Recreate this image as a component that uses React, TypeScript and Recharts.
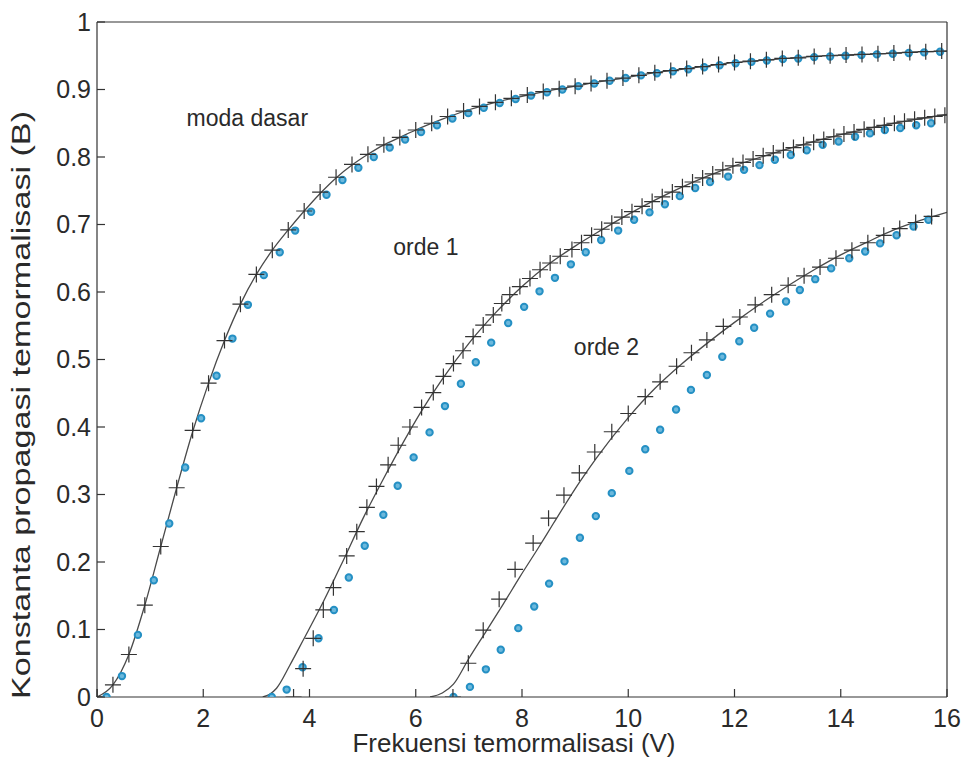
import React from 'react';
import { ComposedChart, Line, Scatter, XAxis, YAxis, ReferenceDot } from 'recharts';

// ---- Data (V = normalized frequency, B = normalized propagation constant) ----
const xTicks = [0, 2, 4, 6, 8, 10, 12, 14, 16];
const yTicks = [0, 0.1, 0.2, 0.3, 0.4, 0.5, 0.6, 0.7, 0.8, 0.9, 1];

// Fundamental mode (moda dasar)
const mode0Line: [number, number][] = [
  [0, 0], [0.3, 0.018], [0.6, 0.063], [0.9, 0.136], [1.2, 0.223], [1.5, 0.31], [1.8, 0.393], [2.1, 0.465],
  [2.4, 0.528], [2.7, 0.582], [3.0, 0.626], [3.3, 0.662], [3.6, 0.692], [3.9, 0.72], [4.2, 0.746], [4.5, 0.769],
  [4.8, 0.788], [5.1, 0.804], [5.4, 0.818], [5.7, 0.829], [6.0, 0.84], [6.5, 0.856], [7.0, 0.87], [7.5, 0.881],
  [8.0, 0.89], [8.5, 0.898], [9.0, 0.905], [9.5, 0.912], [10.0, 0.918], [10.5, 0.925], [11.0, 0.93], [11.5, 0.935],
  [12.0, 0.94], [12.5, 0.943], [13.0, 0.946], [13.5, 0.949], [14.0, 0.951], [14.5, 0.952], [15.0, 0.954],
  [15.5, 0.956], [16.0, 0.957],
];
const mode0Cross: [number, number][] = [
  [0, 0], [0.3, 0.018], [0.6, 0.063], [0.9, 0.136], [1.2, 0.223], [1.5, 0.31], [1.8, 0.395], [2.1, 0.465],
  [2.4, 0.528], [2.7, 0.582], [3.0, 0.626], [3.3, 0.662], [3.6, 0.692], [3.9, 0.72], [4.2, 0.748], [4.5, 0.77],
  [4.8, 0.789], [5.1, 0.804], [5.4, 0.818], [5.7, 0.829], [6.0, 0.84], [6.3, 0.85], [6.6, 0.86], [6.9, 0.868],
  [7.2, 0.875], [7.5, 0.881], [7.8, 0.887], [8.1, 0.892], [8.4, 0.897], [8.7, 0.901], [9.0, 0.905], [9.3, 0.909],
  [9.6, 0.913], [9.9, 0.917], [10.2, 0.921], [10.5, 0.925], [10.8, 0.928], [11.1, 0.931], [11.4, 0.934],
  [11.7, 0.937], [12.0, 0.94], [12.3, 0.942], [12.6, 0.944], [12.9, 0.946], [13.2, 0.947], [13.5, 0.949],
  [13.8, 0.95], [14.1, 0.951], [14.4, 0.952], [14.7, 0.953], [15.0, 0.954], [15.3, 0.955], [15.6, 0.956], [15.9, 0.957],
];
const mode0Circle: [number, number][] = [
  [0.18, 0], [0.47, 0.031], [0.77, 0.092], [1.07, 0.173], [1.36, 0.257], [1.66, 0.34], [1.96, 0.413], [2.25, 0.476],
  [2.55, 0.531], [2.84, 0.581], [3.14, 0.625], [3.44, 0.659], [3.73, 0.691], [4.03, 0.719], [4.32, 0.744],
  [4.62, 0.766], [4.92, 0.784], [5.21, 0.8], [5.51, 0.814], [5.8, 0.826], [6.1, 0.837], [6.4, 0.847], [6.69, 0.857],
  [6.99, 0.865], [7.28, 0.873], [7.58, 0.88], [7.88, 0.886], [8.17, 0.891], [8.47, 0.896], [8.76, 0.9], [9.06, 0.905],
  [9.36, 0.909], [9.65, 0.913], [9.95, 0.917], [10.24, 0.921], [10.54, 0.924], [10.84, 0.927], [11.13, 0.93],
  [11.43, 0.933], [11.72, 0.936], [12.02, 0.939], [12.32, 0.941], [12.61, 0.943], [12.91, 0.945], [13.2, 0.946],
  [13.5, 0.948], [13.8, 0.949], [14.09, 0.95], [14.39, 0.951], [14.68, 0.952], [14.98, 0.953], [15.28, 0.954],
  [15.57, 0.955], [15.87, 0.956],
];

// First order mode (orde 1)
const mode1Line: [number, number][] = [
  [3.12, 0], [3.25, 0.004], [3.38, 0.013], [3.63, 0.047], [3.88, 0.084], [4.26, 0.141], [4.64, 0.203], [5.01, 0.265],
  [5.39, 0.323], [5.77, 0.378], [6.11, 0.424], [6.5, 0.471], [7.0, 0.524], [7.5, 0.569], [8.0, 0.608], [8.5, 0.641],
  [9.0, 0.668], [9.5, 0.692], [10.0, 0.715], [10.5, 0.736], [11.0, 0.755], [11.5, 0.772], [12.0, 0.787],
  [12.5, 0.8], [13.0, 0.812], [13.5, 0.823], [14.0, 0.833], [14.5, 0.842], [15.0, 0.85], [15.5, 0.857], [16.0, 0.863],
];
const mode1Cross: [number, number][] = [
  [3.7, 0], [3.88, 0.042], [4.07, 0.087], [4.26, 0.129], [4.45, 0.162], [4.7, 0.209], [4.89, 0.245], [5.08, 0.281],
  [5.26, 0.312], [5.48, 0.344], [5.67, 0.373], [5.89, 0.4], [6.11, 0.429], [6.33, 0.451], [6.52, 0.475], [6.71, 0.494],
  [6.89, 0.513], [7.08, 0.534], [7.27, 0.551], [7.46, 0.566], [7.62, 0.583], [7.77, 0.596], [7.96, 0.608],
  [8.15, 0.62], [8.34, 0.633], [8.53, 0.643], [8.72, 0.653], [8.94, 0.663], [9.12, 0.673], [9.31, 0.684],
  [9.5, 0.693], [9.69, 0.702], [9.88, 0.711], [10.07, 0.719], [10.26, 0.727], [10.45, 0.734], [10.64, 0.741],
  [10.83, 0.748], [11.02, 0.756], [11.21, 0.763], [11.4, 0.769], [11.59, 0.775], [11.78, 0.781], [11.97, 0.787],
  [12.16, 0.792], [12.35, 0.797], [12.54, 0.802], [12.73, 0.806], [12.92, 0.81], [13.11, 0.814], [13.3, 0.818],
  [13.49, 0.822], [13.68, 0.826], [13.87, 0.83], [14.06, 0.834], [14.25, 0.837], [14.44, 0.841], [14.63, 0.844],
  [14.82, 0.847], [15.01, 0.85], [15.2, 0.853], [15.39, 0.856], [15.58, 0.858], [15.77, 0.86], [15.96, 0.862],
];
const mode1Circle: [number, number][] = [
  [3.29, 0], [3.57, 0.011], [3.87, 0.044], [4.17, 0.087], [4.46, 0.129], [4.74, 0.177], [5.04, 0.224], [5.39, 0.27],
  [5.66, 0.313], [5.96, 0.355], [6.26, 0.392], [6.55, 0.431], [6.85, 0.464], [7.13, 0.496], [7.42, 0.525],
  [7.74, 0.554], [8.04, 0.578], [8.33, 0.601], [8.62, 0.621], [8.92, 0.641], [9.2, 0.659], [9.49, 0.677],
  [9.81, 0.691], [10.11, 0.707], [10.4, 0.718], [10.69, 0.73], [10.97, 0.742], [11.26, 0.754], [11.54, 0.763],
  [11.88, 0.771], [12.18, 0.781], [12.47, 0.788], [12.76, 0.796], [13.06, 0.803], [13.36, 0.81], [13.66, 0.818],
  [13.96, 0.823], [14.27, 0.83], [14.55, 0.835], [14.83, 0.84], [15.12, 0.843], [15.42, 0.847], [15.7, 0.85],
];

// Second order mode (orde 2)
const mode2Line: [number, number][] = [
  [6.27, 0], [6.5, 0.006], [6.71, 0.019], [7.0, 0.057], [7.33, 0.098], [7.65, 0.138], [7.96, 0.178], [8.3, 0.22],
  [8.59, 0.257], [9.09, 0.319], [9.4, 0.354], [10.0, 0.414], [10.5, 0.457], [11.0, 0.493], [11.5, 0.525],
  [12.0, 0.555], [12.5, 0.583], [13.0, 0.609], [13.5, 0.633], [14.0, 0.655], [14.5, 0.674], [15.0, 0.692],
  [15.5, 0.706], [16.0, 0.718],
];
const mode2Cross: [number, number][] = [
  [6.7, 0], [6.99, 0.05], [7.27, 0.099], [7.57, 0.145], [7.87, 0.189], [8.21, 0.228], [8.5, 0.265], [8.79, 0.299],
  [9.08, 0.332], [9.37, 0.363], [9.69, 0.393], [10.0, 0.42], [10.32, 0.445], [10.6, 0.467], [10.91, 0.49],
  [11.19, 0.51], [11.48, 0.529], [11.79, 0.549], [12.1, 0.563], [12.39, 0.581], [12.7, 0.596], [13.01, 0.61],
  [13.31, 0.624], [13.61, 0.637], [13.91, 0.65], [14.21, 0.662], [14.51, 0.673], [14.81, 0.684], [15.11, 0.694],
  [15.41, 0.703], [15.71, 0.712],
];
const mode2Circle: [number, number][] = [
  [6.71, 0], [7.02, 0.015], [7.32, 0.041], [7.6, 0.07], [7.93, 0.102], [8.23, 0.134], [8.51, 0.168], [8.8, 0.201],
  [9.09, 0.236], [9.39, 0.268], [9.69, 0.302], [10.02, 0.335], [10.32, 0.367], [10.6, 0.396], [10.9, 0.426],
  [11.18, 0.455], [11.48, 0.477], [11.77, 0.504], [12.09, 0.527], [12.37, 0.547], [12.67, 0.568], [12.97, 0.586],
  [13.23, 0.603], [13.52, 0.619], [13.82, 0.635], [14.16, 0.65], [14.46, 0.66], [14.74, 0.672], [15.05, 0.684],
  [15.37, 0.697], [15.65, 0.707],
];

const annotations = [
  { v: 2.83, b: 0.858, text: 'moda dasar' },
  { v: 6.19, b: 0.667, text: 'orde 1' },
  { v: 9.59, b: 0.519, text: 'orde 2' },
];

const xLabel = 'Frekuensi temormalisasi (V)';
const yLabel = 'Konstanta propagasi temormalisasi (B)';

// ---- helpers ----
const toRows = (pts: [number, number][]) => pts.map(([v, b]) => ({ v, b }));

const FONT = '"Liberation Sans", Arial, Helvetica, sans-serif';
const TEXT = '#2a2a2a';
const LINE = '#4a4a4a';
const CIRCLE = '#2590c4';
const AXIS = { stroke: '#333', strokeWidth: 1.2 };

const CrossShape = (props: any) => {
  const { cx, cy } = props;
  if (cx == null || cy == null) return null;
  const s = 8;
  return (
    <path
      d={`M${cx - s},${cy}H${cx + s}M${cx},${cy - s}V${cy + s}`}
      stroke="#333"
      strokeWidth={1.2}
      fill="none"
    />
  );
};

const CircleShape = (props: any) => {
  const { cx, cy } = props;
  if (cx == null || cy == null) return null;
  return <circle cx={cx} cy={cy} r={3.2} fill="#6cb8dc" stroke={CIRCLE} strokeWidth={2} />;
};

const XLabelContent = () => (
  <text
    x={514}
    y={752}
    textAnchor="middle"
    fontFamily={FONT}
    fontSize={25}
    fill={TEXT}
    textLength={323}
    lengthAdjust="spacingAndGlyphs"
  >
    {xLabel}
  </text>
);

const YLabelContent = () => {
  const x = 30;
  const y = 405;
  return (
    <text
      x={x}
      y={y}
      transform={`rotate(-90, ${x}, ${y})`}
      textAnchor="middle"
      fontFamily={FONT}
      fontSize={25}
      fill={TEXT}
      textLength={588}
      lengthAdjust="spacingAndGlyphs"
    >
      {yLabel}
    </text>
  );
};

const tickStyle = { fontFamily: FONT, fontSize: 25, fill: TEXT };

export default function App() {
  return (
    <div style={{ position: 'absolute', left: 0, top: 0, width: 961, height: 773, background: '#fff' }}>
      <ComposedChart width={961} height={773} margin={{ top: 21, right: 13, bottom: 0, left: 0 }}>
        <XAxis
          xAxisId="main"
          type="number"
          dataKey="v"
          domain={[0, 16]}
          ticks={xTicks}
          allowDataOverflow
          height={76}
          tickSize={-8}
          tickMargin={20}
          tick={tickStyle}
          axisLine={AXIS}
          tickLine={AXIS}
          label={{ content: <XLabelContent /> }}
        />
        <XAxis
          xAxisId="top"
          orientation="top"
          type="number"
          dataKey="v"
          domain={[0, 16]}
          ticks={xTicks}
          allowDataOverflow
          height={1}
          tickSize={-8}
          tick={false}
          axisLine={AXIS}
          tickLine={AXIS}
        />
        <YAxis
          yAxisId="main"
          type="number"
          domain={[0, 1]}
          ticks={yTicks}
          allowDataOverflow
          width={97}
          tickSize={-8}
          tickMargin={14}
          tick={tickStyle}
          axisLine={AXIS}
          tickLine={AXIS}
          label={{ content: <YLabelContent /> }}
        />
        <YAxis
          yAxisId="right"
          orientation="right"
          type="number"
          domain={[0, 1]}
          ticks={yTicks}
          allowDataOverflow
          width={1}
          tickSize={-8}
          tick={false}
          axisLine={AXIS}
          tickLine={AXIS}
        />

        {[mode0Line, mode1Line, mode2Line].map((pts, i) => (
          <Line
            key={`line${i}`}
            xAxisId="main"
            yAxisId="main"
            data={toRows(pts)}
            dataKey="b"
            type="monotone"
            stroke={LINE}
            strokeWidth={1.3}
            dot={false}
            activeDot={false}
            isAnimationActive={false}
          />
        ))}
        {[mode0Circle, mode1Circle, mode2Circle].map((pts, i) => (
          <Scatter
            key={`circ${i}`}
            xAxisId="main"
            yAxisId="main"
            data={toRows(pts)}
            dataKey="b"
            shape={<CircleShape />}
            isAnimationActive={false}
          />
        ))}
        {[mode0Cross, mode1Cross, mode2Cross].map((pts, i) => (
          <Scatter
            key={`cross${i}`}
            xAxisId="main"
            yAxisId="main"
            data={toRows(pts)}
            dataKey="b"
            shape={<CrossShape />}
            isAnimationActive={false}
          />
        ))}
        {annotations.map((a) => (
          <ReferenceDot
            key={a.text}
            xAxisId="main"
            yAxisId="main"
            x={a.v}
            y={a.b}
            r={1}
            fill="none"
            stroke="none"
            label={{ value: a.text, position: 'center', fontFamily: FONT, fontSize: 23, fill: TEXT }}
          />
        ))}
      </ComposedChart>
    </div>
  );
}
